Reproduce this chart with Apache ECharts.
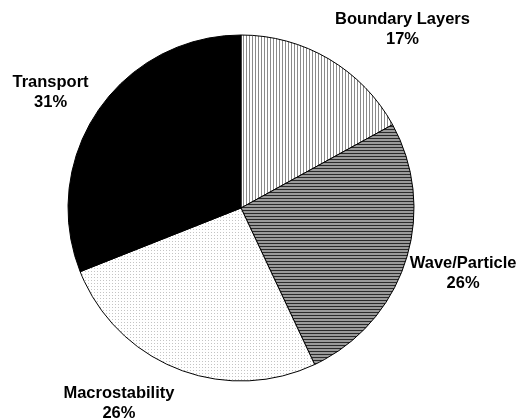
<!DOCTYPE html>
<html>
<head>
<meta charset="utf-8">
<script src="https://cdn.jsdelivr.net/npm/echarts@6/dist/echarts.min.js"></script>
<style>html,body{margin:0;padding:0;background:#fff}#c{width:523px;height:419px}</style>
</head>
<body>
<div id="c"></div>
<script>
var categories = ['Boundary Layers', 'Wave/Particle', 'Macrostability', 'Transport'];
var values = [17, 26, 26, 31];
// small label nudges (px) to mimic the original label placement
var labelNudges = [[43, 13], [5, -3], [-35, -12], [-1, 10]];

function makePattern(kind) {
  var cv = document.createElement('canvas');
  cv.width = 3; cv.height = 3;
  var ctx = cv.getContext('2d');
  ctx.fillStyle = '#ffffff';
  ctx.fillRect(0, 0, 3, 3);
  if (kind === 'vertical') {
    ctx.fillStyle = '#8a8a8a';
    ctx.fillRect(0, 0, 1, 3);
  } else if (kind === 'horizontal') {
    ctx.fillStyle = '#9a9a9a';
    ctx.fillRect(0, 0, 3, 3);
    ctx.fillStyle = '#2a2a2a';
    ctx.fillRect(0, 0, 3, 1);
  } else if (kind === 'dots') {
    ctx.fillStyle = '#c4c4c4';
    ctx.fillRect(1, 1, 1, 1);
  }
  return { image: cv, repeat: 'repeat' };
}
var fills = [makePattern('vertical'), makePattern('horizontal'), makePattern('dots'), '#000000'];

var chart = echarts.init(document.getElementById('c'), null, { renderer: 'canvas' });
chart.setOption({
  animation: false,
  backgroundColor: '#ffffff',
  series: [{
    type: 'pie',
    center: [241, 208],
    radius: 173,
    startAngle: 90,
    clockwise: true,
    avoidLabelOverlap: false,
    data: categories.map(function (n, i) {
      return { name: n, value: values[i], itemStyle: { color: fills[i] } };
    }),
    itemStyle: { borderColor: '#000', borderWidth: 1 },
    label: {
      show: true,
      position: 'outside',
      overflow: 'none',
      formatter: function (p) { return p.name + '\n' + Math.round(p.percent) + '%'; },
      fontFamily: 'Liberation Sans, Arial, sans-serif',
      fontWeight: 'bold',
      fontSize: 16.5,
      lineHeight: 20,
      color: '#000'
    },
    labelLine: { show: false, length: 50, length2: 0 },
    labelLayout: function (p) {
      var n = labelNudges[p.dataIndex];
      return { align: 'center', verticalAlign: 'middle', dx: n[0], dy: n[1] };
    },
    emphasis: { disabled: true }
  }]
});
</script>
</body>
</html>
